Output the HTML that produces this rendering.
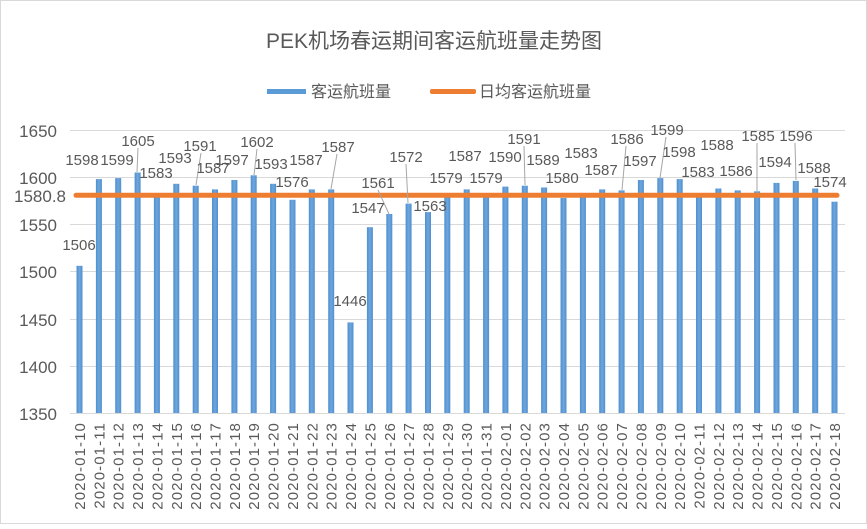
<!DOCTYPE html>
<html><head><meta charset="utf-8"><style>
body{margin:0;background:#fff}
svg text{font-family:"Liberation Sans","Noto Sans CJK SC",sans-serif;fill:#595959}
</style></head><body>
<svg width="867" height="524" viewBox="0 0 867 524" xmlns="http://www.w3.org/2000/svg">
<defs><linearGradient id="bg" x1="0" x2="1" y1="0" y2="0"><stop offset="0" stop-color="#4f8fcf"/><stop offset="0.5" stop-color="#6ea6dc"/><stop offset="1" stop-color="#4f8fcf"/></linearGradient></defs>
<rect x="0.5" y="0.5" width="866" height="523" fill="#fff" stroke="#d9d9d9"/>
<text x="434" y="48" font-size="21" text-anchor="middle">PEK机场春运期间客运航班量走势图</text>
<rect x="267" y="89" width="39" height="5" fill="#5b9bd5"/>
<text x="311" y="97" font-size="16">客运航班量</text>
<rect x="430" y="89" width="46" height="5" rx="2" fill="#ed7d31"/>
<text x="479" y="97" font-size="16">日均客运航班量</text>
<g stroke="#d9d9d9" stroke-width="1">
<line x1="70" x2="845" y1="130.5" y2="130.5"/><line x1="70" x2="845" y1="177.5" y2="177.5"/><line x1="70" x2="845" y1="224.5" y2="224.5"/><line x1="70" x2="845" y1="271.5" y2="271.5"/><line x1="70" x2="845" y1="319.5" y2="319.5"/><line x1="70" x2="845" y1="366.5" y2="366.5"/><line x1="70" x2="845" y1="413.5" y2="413.5"/>
</g>
<g font-size="17" text-anchor="end">
<text x="57" y="137">1650</text><text x="57" y="184">1600</text><text x="57" y="231">1550</text><text x="57" y="278">1500</text><text x="57" y="326">1450</text><text x="57" y="373">1400</text><text x="57" y="420">1350</text><text x="66" y="202">1580.8</text>
</g>
<g fill="url(#bg)">
<rect x="76.5" y="265.8" width="6" height="147.2"/>
<rect x="95.9" y="179.1" width="6" height="233.9"/>
<rect x="115.2" y="178.1" width="6" height="234.9"/>
<rect x="134.6" y="172.5" width="6" height="240.5"/>
<rect x="153.9" y="193.2" width="6" height="219.8"/>
<rect x="173.3" y="183.8" width="6" height="229.2"/>
<rect x="192.7" y="185.7" width="6" height="227.3"/>
<rect x="212.0" y="189.4" width="6" height="223.6"/>
<rect x="231.4" y="180.0" width="6" height="233.0"/>
<rect x="250.7" y="175.3" width="6" height="237.7"/>
<rect x="270.1" y="183.8" width="6" height="229.2"/>
<rect x="289.5" y="199.8" width="6" height="213.2"/>
<rect x="308.8" y="189.4" width="6" height="223.6"/>
<rect x="328.2" y="189.4" width="6" height="223.6"/>
<rect x="347.5" y="322.4" width="6" height="90.6"/>
<rect x="366.9" y="227.2" width="6" height="185.8"/>
<rect x="386.3" y="214.0" width="6" height="199.0"/>
<rect x="405.6" y="203.6" width="6" height="209.4"/>
<rect x="425.0" y="212.1" width="6" height="200.9"/>
<rect x="444.3" y="197.0" width="6" height="216.0"/>
<rect x="463.7" y="189.4" width="6" height="223.6"/>
<rect x="483.1" y="197.0" width="6" height="216.0"/>
<rect x="502.4" y="186.6" width="6" height="226.4"/>
<rect x="521.8" y="185.7" width="6" height="227.3"/>
<rect x="541.1" y="187.5" width="6" height="225.5"/>
<rect x="560.5" y="198.0" width="6" height="215.0"/>
<rect x="579.9" y="193.2" width="6" height="219.8"/>
<rect x="599.2" y="189.4" width="6" height="223.6"/>
<rect x="618.6" y="190.4" width="6" height="222.6"/>
<rect x="637.9" y="180.0" width="6" height="233.0"/>
<rect x="657.3" y="178.1" width="6" height="234.9"/>
<rect x="676.7" y="179.1" width="6" height="233.9"/>
<rect x="696.0" y="193.2" width="6" height="219.8"/>
<rect x="715.4" y="188.5" width="6" height="224.5"/>
<rect x="734.7" y="190.4" width="6" height="222.6"/>
<rect x="754.1" y="191.3" width="6" height="221.7"/>
<rect x="773.5" y="182.9" width="6" height="230.1"/>
<rect x="792.8" y="180.9" width="6" height="232.1"/>
<rect x="812.2" y="188.5" width="6" height="224.5"/>
<rect x="831.5" y="201.7" width="6" height="211.3"/>
</g>
<line x1="76" x2="837" y1="195.3" y2="195.3" stroke="#ed7d31" stroke-width="5" stroke-linecap="round"/>
<g stroke="#a6a6a6" stroke-width="1">
<line x1="138" y1="148" x2="137" y2="172"/><line x1="201" y1="153" x2="196" y2="185"/><line x1="257" y1="149" x2="254" y2="175"/><line x1="337" y1="154" x2="331" y2="189"/><line x1="378" y1="190" x2="389" y2="214"/><line x1="406" y1="164" x2="408" y2="203"/><line x1="524" y1="146" x2="525" y2="185"/><line x1="626" y1="146" x2="622" y2="190"/><line x1="666" y1="137" x2="660" y2="178"/><line x1="757" y1="143" x2="757" y2="191"/><line x1="795" y1="143" x2="796" y2="180"/>
</g>
<g font-size="15" text-anchor="middle">
<text x="79" y="250">1506</text><text x="82" y="165">1598</text><text x="117" y="165">1599</text><text x="138" y="146">1605</text><text x="156" y="178">1583</text><text x="175" y="163">1593</text><text x="200" y="151">1591</text><text x="213" y="173">1587</text><text x="232" y="165">1597</text><text x="257" y="147">1602</text><text x="271" y="169">1593</text><text x="292" y="187">1576</text><text x="306" y="165">1587</text><text x="338" y="152">1587</text><text x="350" y="306">1446</text><text x="368" y="213">1547</text><text x="378" y="188">1561</text><text x="406" y="162">1572</text><text x="430" y="211">1563</text><text x="446" y="183">1579</text><text x="465" y="161">1587</text><text x="486" y="183">1579</text><text x="505" y="162">1590</text><text x="524" y="144">1591</text><text x="543" y="165">1589</text><text x="562" y="183">1580</text><text x="581" y="158">1583</text><text x="601" y="175">1587</text><text x="627" y="144">1586</text><text x="640" y="166">1597</text><text x="667" y="135">1599</text><text x="679" y="157">1598</text><text x="698" y="177">1583</text><text x="717" y="150">1588</text><text x="736" y="176">1586</text><text x="758" y="141">1585</text><text x="775" y="167">1594</text><text x="796" y="141">1596</text><text x="814" y="173">1588</text><text x="830" y="187">1574</text>
</g>
<g font-size="15" letter-spacing="1.1" text-anchor="end">
<text transform="translate(85,422) rotate(-90)">2020-01-10</text>
<text transform="translate(104.4,422) rotate(-90)">2020-01-11</text>
<text transform="translate(123.7,422) rotate(-90)">2020-01-12</text>
<text transform="translate(143.1,422) rotate(-90)">2020-01-13</text>
<text transform="translate(162.4,422) rotate(-90)">2020-01-14</text>
<text transform="translate(181.8,422) rotate(-90)">2020-01-15</text>
<text transform="translate(201.2,422) rotate(-90)">2020-01-16</text>
<text transform="translate(220.5,422) rotate(-90)">2020-01-17</text>
<text transform="translate(239.9,422) rotate(-90)">2020-01-18</text>
<text transform="translate(259.2,422) rotate(-90)">2020-01-19</text>
<text transform="translate(278.6,422) rotate(-90)">2020-01-20</text>
<text transform="translate(298,422) rotate(-90)">2020-01-21</text>
<text transform="translate(317.3,422) rotate(-90)">2020-01-22</text>
<text transform="translate(336.7,422) rotate(-90)">2020-01-23</text>
<text transform="translate(356,422) rotate(-90)">2020-01-24</text>
<text transform="translate(375.4,422) rotate(-90)">2020-01-25</text>
<text transform="translate(394.8,422) rotate(-90)">2020-01-26</text>
<text transform="translate(414.1,422) rotate(-90)">2020-01-27</text>
<text transform="translate(433.5,422) rotate(-90)">2020-01-28</text>
<text transform="translate(452.8,422) rotate(-90)">2020-01-29</text>
<text transform="translate(472.2,422) rotate(-90)">2020-01-30</text>
<text transform="translate(491.6,422) rotate(-90)">2020-01-31</text>
<text transform="translate(510.9,422) rotate(-90)">2020-02-01</text>
<text transform="translate(530.3,422) rotate(-90)">2020-02-02</text>
<text transform="translate(549.6,422) rotate(-90)">2020-02-03</text>
<text transform="translate(569,422) rotate(-90)">2020-02-04</text>
<text transform="translate(588.4,422) rotate(-90)">2020-02-05</text>
<text transform="translate(607.7,422) rotate(-90)">2020-02-06</text>
<text transform="translate(627.1,422) rotate(-90)">2020-02-07</text>
<text transform="translate(646.4,422) rotate(-90)">2020-02-08</text>
<text transform="translate(665.8,422) rotate(-90)">2020-02-09</text>
<text transform="translate(685.2,422) rotate(-90)">2020-02-10</text>
<text transform="translate(704.5,422) rotate(-90)">2020-02-11</text>
<text transform="translate(723.9,422) rotate(-90)">2020-02-12</text>
<text transform="translate(743.2,422) rotate(-90)">2020-02-13</text>
<text transform="translate(762.6,422) rotate(-90)">2020-02-14</text>
<text transform="translate(782,422) rotate(-90)">2020-02-15</text>
<text transform="translate(801.3,422) rotate(-90)">2020-02-16</text>
<text transform="translate(820.7,422) rotate(-90)">2020-02-17</text>
<text transform="translate(840,422) rotate(-90)">2020-02-18</text>
</g>
</svg>
</body></html>
